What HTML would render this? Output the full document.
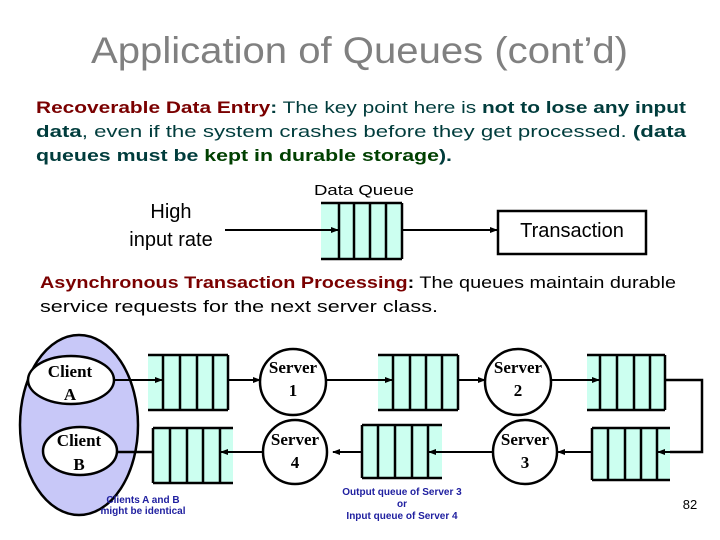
<!DOCTYPE html>
<html><head><meta charset="utf-8"><style>
html,body{margin:0;padding:0;background:#fff;}
svg{display:block;}
text{font-family:"Liberation Sans",sans-serif;}
.s{font-family:"Liberation Serif",serif;font-weight:bold;font-size:17px;text-anchor:middle;}
.b{font-size:10px;font-weight:bold;fill:#2020a0;text-anchor:middle;}
</style></head><body>
<svg width="720" height="540" viewBox="0 0 720 540" xmlns="http://www.w3.org/2000/svg">
<defs>
<marker id="a" markerWidth="8" markerHeight="8" refX="7" refY="4" orient="auto" markerUnits="userSpaceOnUse"><path d="M0,1 L8,4 L0,7 z" fill="#000"/></marker>
</defs>
<text x="91" y="63" font-size="37" fill="#808080" textLength="537" lengthAdjust="spacingAndGlyphs">Application of Queues (cont’d)</text>

<g font-size="17">
<text x="36" y="113" textLength="650" lengthAdjust="spacingAndGlyphs"><tspan fill="#7a0000" font-weight="bold">Recoverable Data Entry</tspan><tspan fill="#003c3c" font-weight="bold">:</tspan><tspan fill="#003c3c"> The key point here is </tspan><tspan fill="#003c3c" font-weight="bold">not to lose any input</tspan></text>
<text x="36" y="137" textLength="650" lengthAdjust="spacingAndGlyphs" fill="#003c3c"><tspan font-weight="bold">data</tspan>, even if the system crashes before they get processed. <tspan font-weight="bold">(data</tspan></text>
<text x="36" y="161" textLength="416" lengthAdjust="spacingAndGlyphs" fill="#003c3c" font-weight="bold">queues must be <tspan fill="#004000">kept in durable storage</tspan>).</text>
<text x="40" y="288" textLength="636" lengthAdjust="spacingAndGlyphs"><tspan fill="#7a0000" font-weight="bold">Asynchronous Transaction Processing</tspan><tspan font-weight="bold">:</tspan> The queues maintain durable</text>
<text x="40" y="312" textLength="398" lengthAdjust="spacingAndGlyphs">service requests for the next server class.</text>
</g>

<!-- top diagram -->
<text x="171" y="218" font-size="20" text-anchor="middle">High</text>
<text x="171" y="246" font-size="20" text-anchor="middle">input rate</text>
<text x="314" y="195" font-size="15" textLength="100" lengthAdjust="spacingAndGlyphs">Data Queue</text>
<rect x="321" y="203" width="81" height="56" fill="#ccfff0"/>
<g stroke="#000" stroke-width="2.5" fill="none">
<path d="M321,203H402M321,259H402M339,203V259M354,203V259M370,203V259M386,203V259M402,203V259"/>
</g>
<line x1="225" y1="230" x2="338" y2="230" stroke="#000" stroke-width="2" marker-end="url(#a)"/>
<line x1="402" y1="230" x2="497" y2="230" stroke="#000" stroke-width="2" marker-end="url(#a)"/>
<rect x="498" y="211" width="148" height="43" fill="#fff" stroke="#000" stroke-width="2.5"/>
<text x="572" y="237" font-size="20" text-anchor="middle">Transaction</text>

<!-- bottom diagram -->
<ellipse cx="79" cy="425" rx="59" ry="90" fill="#c8c8f8" stroke="#000" stroke-width="2.5"/>
<ellipse cx="71" cy="380" rx="43" ry="24" fill="#fff" stroke="#000" stroke-width="2.5"/>
<ellipse cx="80" cy="451" rx="37" ry="24" fill="#fff" stroke="#000" stroke-width="2.5"/>
<text class="s" x="70" y="377">Client</text><text class="s" x="70" y="400">A</text>
<text class="s" x="79" y="446">Client</text><text class="s" x="79" y="470">B</text>

<g fill="#ccfff0">
<rect x="148" y="355" width="80" height="55"/>
<rect x="378" y="355" width="80" height="55"/>
<rect x="587" y="355" width="78" height="55"/>
<rect x="592" y="428" width="78" height="52"/>
<rect x="362" y="425" width="80" height="53"/>
<rect x="153" y="428" width="80" height="55"/>
</g>
<g stroke="#000" stroke-width="2.5" fill="none">
<path d="M148,355H228M148,410H228M163,355V410M180,355V410M197,355V410M213,355V410M228,355V410"/>
<path d="M378,355H458M378,410H458M393,355V410M410,355V410M426,355V410M442,355V410M458,355V410"/>
<path d="M587,355H665M587,410H665M600,355V410M617,355V410M634,355V410M650,355V410M665,355V410"/>
<path d="M592,428H670M592,480H670M592,428V480M608,428V480M625,428V480M641,428V480M657,428V480"/>
<path d="M362,425H442M362,478H442M362,425V478M378,425V478M395,425V478M412,425V478M428,425V478"/>
<path d="M153,428H233M153,483H233M153,428V483M170,428V483M187,428V483M203,428V483M220,428V483"/>
<path d="M665,380H702V452H670"/>
<path d="M153,452H117"/>
</g>
<g stroke="#000" stroke-width="2" fill="none">
<line x1="114" y1="380" x2="162" y2="380" marker-end="url(#a)"/>
<line x1="228" y1="380" x2="260" y2="380" marker-end="url(#a)"/>
<line x1="326" y1="380" x2="392" y2="380" marker-end="url(#a)"/>
<line x1="458" y1="380" x2="485" y2="380" marker-end="url(#a)"/>
<line x1="551" y1="380" x2="599" y2="380" marker-end="url(#a)"/>
<line x1="702" y1="452" x2="658" y2="452" marker-end="url(#a)"/>
<line x1="592" y1="452" x2="558" y2="452" marker-end="url(#a)"/>
<line x1="493" y1="452" x2="429" y2="452" marker-end="url(#a)"/>
<line x1="362" y1="452" x2="333" y2="452" marker-end="url(#a)"/>
<line x1="263" y1="452" x2="221" y2="452" marker-end="url(#a)"/>
</g>
<g fill="#fff" stroke="#000" stroke-width="2.5">
<circle cx="293" cy="382" r="33"/>
<circle cx="518" cy="382" r="33"/>
<circle cx="525" cy="452" r="32"/>
<circle cx="295" cy="452" r="32"/>
</g>
<text class="s" x="293" y="373">Server</text><text class="s" x="293" y="396">1</text>
<text class="s" x="518" y="373">Server</text><text class="s" x="518" y="396">2</text>
<text class="s" x="525" y="445">Server</text><text class="s" x="525" y="468">3</text>
<text class="s" x="295" y="445">Server</text><text class="s" x="295" y="468">4</text>

<text class="b" x="143" y="503">Clients A and B</text>
<text class="b" x="143" y="514">might be identical</text>
<text class="b" x="402" y="495">Output queue of Server 3</text>
<text class="b" x="402" y="507">or</text>
<text class="b" x="402" y="519">Input queue of Server 4</text>
<text x="690" y="509" font-size="13" text-anchor="middle">82</text>
</svg>
</body></html>
